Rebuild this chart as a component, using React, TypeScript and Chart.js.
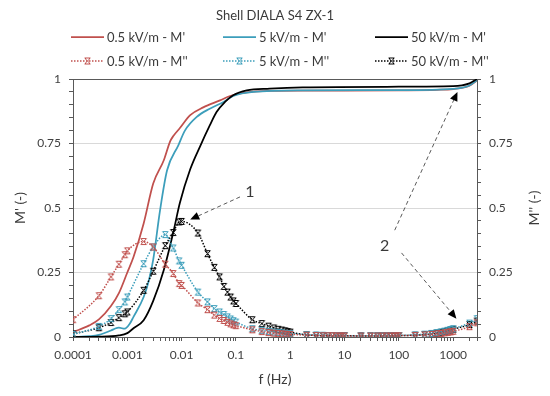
import React, { useEffect, useRef } from 'react';
import { Chart, registerables } from 'chart.js';

Chart.register(...registerables);

const FONT = 'Lato, "Open Sans", "DejaVu Sans", sans-serif';
const TEXT = '#3a3a3a';
const TICK_TEXT = '#404040';
const AXIS = '#595959';
const GRID = '#d9d9d9';
const RED = '#C0504D';
const BLUE = '#3C9EBB';
const BLACK = '#000000';

const TITLE = 'Shell DIALA S4 ZX-1';
const X_TITLE = 'f (Hz)';
const Y_TITLE_LEFT = "M' (-)";
const Y_TITLE_RIGHT = "M'' (-)";

const X_MIN = 0.0001;
const X_MAX = 2750;
const Y_MIN = 0;
const Y_MAX = 1;
const Y_MAJOR = 0.25;
const Y_MINOR = 0.05;

// ---- M' (real part) : smooth solid lines ----
const MP_RED_F = [0.0001, 0.0002, 0.0003, 0.0005, 0.0007, 0.001, 0.0013, 0.002, 0.003, 0.0047, 0.0062, 0.0071, 0.0093, 0.0144, 0.025, 0.051, 0.078, 0.158, 0.42, 1.7, 10, 100, 500, 1000, 2000, 2750];
const MP_RED_V = [0.019, 0.045, 0.068, 0.12, 0.17, 0.25, 0.31, 0.44, 0.595, 0.685, 0.76, 0.78, 0.81, 0.86, 0.89, 0.917, 0.934, 0.948, 0.954, 0.955, 0.955, 0.956, 0.958, 0.961, 0.974, 0.995];

const MP_BLUE_F = [0.0001, 0.0002, 0.0003, 0.0005, 0.0006, 0.0007, 0.0009, 0.0011, 0.0013, 0.002, 0.0025, 0.003, 0.004, 0.0054, 0.0087, 0.0115, 0.019, 0.033, 0.059, 0.089, 0.21, 1.7, 100, 1000, 2000, 2750];
const MP_BLUE_V = [0.0, 0.003, 0.008, 0.025, 0.033, 0.036, 0.032, 0.05, 0.078, 0.155, 0.22, 0.3, 0.49, 0.646, 0.743, 0.8, 0.853, 0.885, 0.911, 0.934, 0.95, 0.956, 0.957, 0.962, 0.975, 0.995];

const MP_BLACK_F = [0.0001, 0.0003, 0.0007, 0.001, 0.0013, 0.002, 0.003, 0.0047, 0.0071, 0.0093, 0.0144, 0.022, 0.033, 0.044, 0.063, 0.089, 0.158, 0.42, 1.7, 100, 1000, 2000, 2750];
const MP_BLACK_V = [0.0, 0.001, 0.006, 0.015, 0.034, 0.065, 0.14, 0.26, 0.41, 0.52, 0.65, 0.74, 0.82, 0.872, 0.911, 0.937, 0.956, 0.963, 0.968, 0.97, 0.972, 0.983, 1.0];

// ---- M'' (imaginary part) : dotted lines with markers ----
const MPP_F = [
  0.0001, 0.0003, 0.0005, 0.0007, 0.0009,
  0.001, 0.002, 0.003, 0.005, 0.007, 0.009,
  0.01, 0.02, 0.03, 0.04, 0.05, 0.06, 0.07, 0.08, 0.09,
  0.1, 0.2, 0.3, 0.4, 0.5, 0.6, 0.7, 0.8, 0.9,
  1, 2, 3, 4, 5, 6, 7, 8, 9,
  10, 20, 30, 40, 50, 60, 70, 80, 90,
  100, 200, 300, 400, 500, 600, 700, 800, 900,
  1000, 2000, 2750,
];
const MPP_RED = [
  0.067, 0.16, 0.233, 0.282, 0.319,
  0.334, 0.37, 0.349, 0.282, 0.246, 0.207,
  0.2, 0.132, 0.106, 0.085, 0.072, 0.064, 0.057, 0.051, 0.047,
  0.044, 0.028, 0.021, 0.017, 0.015, 0.013, 0.012, 0.011, 0.01,
  0.01, 0.007, 0.006, 0.005, 0.005, 0.005, 0.004, 0.004, 0.004,
  0.004, 0.004, 0.004, 0.004, 0.004, 0.004, 0.004, 0.004, 0.004,
  0.005, 0.006, 0.008, 0.01, 0.012, 0.014, 0.016, 0.018, 0.02,
  0.022, 0.04, 0.055,
];
const MPP_BLUE = [
  0.01, 0.041, 0.071, 0.106, 0.136,
  0.155, 0.284, 0.349, 0.397, 0.345, 0.295,
  0.278, 0.174, 0.136, 0.11, 0.097, 0.087, 0.078, 0.07, 0.063,
  0.058, 0.032, 0.026, 0.022, 0.019, 0.017, 0.016, 0.014, 0.013,
  0.013, 0.009, 0.008, 0.007, 0.006, 0.006, 0.006, 0.005, 0.005,
  0.005, 0.005, 0.005, 0.005, 0.005, 0.005, 0.005, 0.005, 0.005,
  0.006, 0.008, 0.011, 0.014, 0.017, 0.02, 0.023, 0.026, 0.029,
  0.032, 0.054, 0.071,
];
const MPP_BLACK = [
  0.012, 0.036, 0.056, 0.075, 0.09,
  0.097, 0.181, 0.255, 0.354, 0.405, 0.446,
  0.448, 0.403, 0.323, 0.27, 0.233, 0.196, 0.174, 0.155, 0.14,
  0.13, 0.067, 0.052, 0.042, 0.035, 0.03, 0.027, 0.024, 0.021,
  0.019, 0.008, 0.006, 0.005, 0.005, 0.005, 0.005, 0.005, 0.005,
  0.005, 0.004, 0.004, 0.004, 0.004, 0.004, 0.004, 0.004, 0.004,
  0.005, 0.007, 0.009, 0.012, 0.015, 0.018, 0.021, 0.024, 0.027,
  0.03, 0.048, 0.062,
];

const SERIES_LABELS = [
  "0.5 kV/m - M'", "5 kV/m - M'", "50 kV/m - M'",
  "0.5 kV/m - M''", "5 kV/m - M''", "50 kV/m - M''",
];

// annotations in data coordinates (frequency, value)
const ANNOT_LABELS = [
  { text: '1', f: 0.18, v: 0.562 },
  { text: '2', f: 55, v: 0.355 },
];
const ANNOT_ARROWS = [
  { f1: 0.119, v1: 0.543, f2: 0.0144, v2: 0.455 },
  { f1: 84, v1: 0.414, f2: 1200, v2: 0.95 },
  { f1: 112, v1: 0.326, f2: 1150, v2: 0.071 },
];

const toXY = (f: number[], v: number[]) => f.map((x, i) => ({ x, y: v[i] }));

function makeMarker(color: string): HTMLCanvasElement {
  const s = 9;
  const c = document.createElement('canvas');
  c.width = s;
  c.height = s;
  const g = c.getContext('2d')!;
  g.strokeStyle = color;
  g.lineWidth = 1;
  g.beginPath();
  g.moveTo(1.5, 1.5); g.lineTo(7.5, 7.5);
  g.moveTo(7.5, 1.5); g.lineTo(1.5, 7.5);
  g.moveTo(2, 1.5); g.lineTo(7, 1.5);
  g.moveTo(2, 7.5); g.lineTo(7, 7.5);
  g.stroke();
  return c;
}

const isMajorY = (v: number) => Math.abs(v / Y_MAJOR - Math.round(v / Y_MAJOR)) < 1e-6;
const yLabel = (v: any) => (isMajorY(+v) ? String(+(+v).toFixed(2)) : '');
const isDecade = (v: number) => {
  const l = Math.log10(v);
  return Math.abs(l - Math.round(l)) < 1e-9;
};

function xTickValues(): number[] {
  const out: number[] = [];
  const e0 = Math.floor(Math.log10(X_MIN));
  const e1 = Math.floor(Math.log10(X_MAX));
  for (let e = e0; e <= e1; e++) {
    for (let m = 1; m <= 9; m++) {
      const v = m * Math.pow(10, e);
      if (v >= X_MIN * 0.999 && v <= X_MAX) out.push(v);
    }
  }
  out.push(X_MAX);
  return out;
}

const decorPlugin = {
  id: 'decor',
  afterDraw(chart: any) {
    const { ctx, chartArea: ca, scales } = chart;
    const xs = scales.x;
    const ys = scales.y;
    ctx.save();
    // Title
    ctx.fillStyle = TEXT;
    ctx.textAlign = 'center';
    ctx.textBaseline = 'middle';
    ctx.font = `13px ${FONT}`;
    ctx.fillText(TITLE, (ca.left + ca.right) / 2, 8);

    // Legend (3 columns x 2 rows)
    const colors = [RED, BLUE, BLACK];
    const colX = [63, 215, 367];
    const rowY = [29, 53];
    const lineLen = 33;
    ctx.textAlign = 'left';
    ctx.font = `13px ${FONT}`;
    for (let r = 0; r < 2; r++) {
      for (let c = 0; c < 3; c++) {
        const x0 = colX[c];
        const y0 = rowY[r];
        ctx.strokeStyle = colors[c];
        ctx.lineWidth = r === 0 ? 1.75 : 1.5;
        ctx.setLineDash(r === 0 ? [] : [1.5, 1.5]);
        ctx.beginPath();
        ctx.moveTo(x0, y0);
        ctx.lineTo(x0 + lineLen, y0);
        ctx.stroke();
        ctx.setLineDash([]);
        if (r === 1) {
          const m = makeMarker(colors[c]);
          ctx.drawImage(m, x0 + lineLen / 2 - 4.5, y0 - 4.5);
        }
        ctx.fillStyle = TEXT;
        ctx.fillText(SERIES_LABELS[r * 3 + c], x0 + lineLen + 3, y0 + 1);
      }
    }

    // Axis titles
    ctx.font = `14px ${FONT}`;
    ctx.fillStyle = TEXT;
    ctx.textAlign = 'center';
    ctx.fillText(X_TITLE, (ca.left + ca.right) / 2, ca.bottom + 42);
    const midY = (ca.top + ca.bottom) / 2;
    ctx.save();
    ctx.translate(12, midY);
    ctx.rotate(-Math.PI / 2);
    ctx.fillText(Y_TITLE_LEFT, 0, 0);
    ctx.restore();
    ctx.save();
    ctx.translate(ca.right + 57, midY);
    ctx.rotate(-Math.PI / 2);
    ctx.fillText(Y_TITLE_RIGHT, 0, 0);
    ctx.restore();

    // Annotation arrows
    for (const a of ANNOT_ARROWS) {
      const x1 = xs.getPixelForValue(a.f1);
      const y1 = ys.getPixelForValue(a.v1);
      const x2 = xs.getPixelForValue(a.f2);
      const y2 = ys.getPixelForValue(a.v2);
      const ang = Math.atan2(y2 - y1, x2 - x1);
      const headL = 9;
      const headW = 4;
      const bx = x2 - headL * Math.cos(ang);
      const by = y2 - headL * Math.sin(ang);
      ctx.strokeStyle = '#595959';
      ctx.lineWidth = 1;
      ctx.setLineDash([4, 3]);
      ctx.beginPath();
      ctx.moveTo(x1, y1);
      ctx.lineTo(bx, by);
      ctx.stroke();
      ctx.setLineDash([]);
      ctx.fillStyle = '#000000';
      ctx.beginPath();
      ctx.moveTo(x2, y2);
      ctx.lineTo(bx + headW * Math.sin(ang), by - headW * Math.cos(ang));
      ctx.lineTo(bx - headW * Math.sin(ang), by + headW * Math.cos(ang));
      ctx.closePath();
      ctx.fill();
    }
    ctx.font = `16px ${FONT}`;
    ctx.fillStyle = TEXT;
    ctx.textAlign = 'center';
    for (const l of ANNOT_LABELS) {
      ctx.fillText(l.text, xs.getPixelForValue(l.f), ys.getPixelForValue(l.v));
    }
    ctx.restore();
  },
};

export default function App() {
  const ref = useRef<HTMLCanvasElement>(null);
  useEffect(() => {
    Chart.defaults.font.family = FONT;
    const solid = (label: string, f: number[], v: number[], color: string, order: number) => ({
      label,
      data: toXY(f, v),
      showLine: true,
      borderColor: color,
      backgroundColor: color,
      borderWidth: 1.75,
      pointRadius: 0,
      cubicInterpolationMode: 'monotone' as const,
      order,
    });
    const dotted = (label: string, v: number[], color: string) => ({
      label,
      data: toXY(MPP_F, v),
      showLine: true,
      borderColor: color,
      backgroundColor: color,
      borderWidth: 1.5,
      borderDash: [1.5, 1.5],
      pointStyle: makeMarker(color),
      pointRadius: 4,
      cubicInterpolationMode: 'monotone' as const,
      order: 1,
    });
    const chart = new Chart(ref.current!, {
      type: 'scatter',
      data: {
        datasets: [
          solid(SERIES_LABELS[0], MP_RED_F, MP_RED_V, RED, 4),
          solid(SERIES_LABELS[1], MP_BLUE_F, MP_BLUE_V, BLUE, 3),
          solid(SERIES_LABELS[2], MP_BLACK_F, MP_BLACK_V, BLACK, 2),
          dotted(SERIES_LABELS[3], MPP_RED, RED),
          dotted(SERIES_LABELS[4], MPP_BLUE, BLUE),
          dotted(SERIES_LABELS[5], MPP_BLACK, BLACK),
        ] as any,
      },
      options: {
        animation: false,
        responsive: true,
        maintainAspectRatio: false,
        layout: { padding: { top: 71, left: 0, right: 0, bottom: 0 } },
        plugins: {
          legend: { display: false },
          title: { display: false },
          tooltip: { enabled: false },
        },
        scales: {
          x: {
            type: 'logarithmic',
            min: X_MIN,
            max: X_MAX,
            afterBuildTicks: (scale: any) => {
              scale.ticks = xTickValues().map((value) => ({ value, major: isDecade(value) }));
            },
            afterFit: (scale: any) => {
              scale.height = 51;
            },
            ticks: {
              autoSkip: false,
              maxRotation: 0,
              minRotation: 0,
              padding: 7,
              color: TICK_TEXT,
              font: { size: 12, family: FONT },
              callback: (v: any) => (isDecade(+v) ? String(+v) : ''),
            },
            grid: {
              display: true,
              drawOnChartArea: false,
              drawTicks: true,
              tickLength: 4,
              tickColor: AXIS,
            },
            border: { display: true, color: AXIS, width: 1 },
          },
          y: {
            type: 'linear',
            position: 'left',
            min: Y_MIN,
            max: Y_MAX,
            afterFit: (scale: any) => {
              scale.width = 65;
            },
            ticks: {
              stepSize: Y_MINOR,
              autoSkip: false,
              padding: 8,
              color: TICK_TEXT,
              font: { size: 12, family: FONT },
              callback: yLabel,
            },
            grid: {
              display: true,
              drawOnChartArea: true,
              drawTicks: true,
              tickLength: 4,
              tickColor: AXIS,
              color: (c: any) => {
                const v = c.tick ? c.tick.value : 0;
                if (!isMajorY(v)) return 'rgba(0,0,0,0)';
                if (Math.abs(v - Y_MAX) < 1e-6) return AXIS;
                return GRID;
              },
            },
            border: { display: true, color: AXIS, width: 1 },
          },
          y2: {
            type: 'linear',
            position: 'right',
            min: Y_MIN,
            max: Y_MAX,
            afterFit: (scale: any) => {
              scale.width = 65;
            },
            ticks: {
              stepSize: Y_MINOR,
              autoSkip: false,
              padding: 8,
              color: TICK_TEXT,
              font: { size: 12, family: FONT },
              callback: yLabel,
            },
            grid: {
              display: true,
              drawOnChartArea: false,
              drawTicks: true,
              tickLength: 4,
              tickColor: AXIS,
            },
            border: { display: true, color: AXIS, width: 1 },
          },
        },
      } as any,
      plugins: [decorPlugin],
    });
    return () => chart.destroy();
  }, []);
  return (
    <div style={{ width: 534, height: 380, position: 'relative' }}>
      <canvas ref={ref} />
    </div>
  );
}
